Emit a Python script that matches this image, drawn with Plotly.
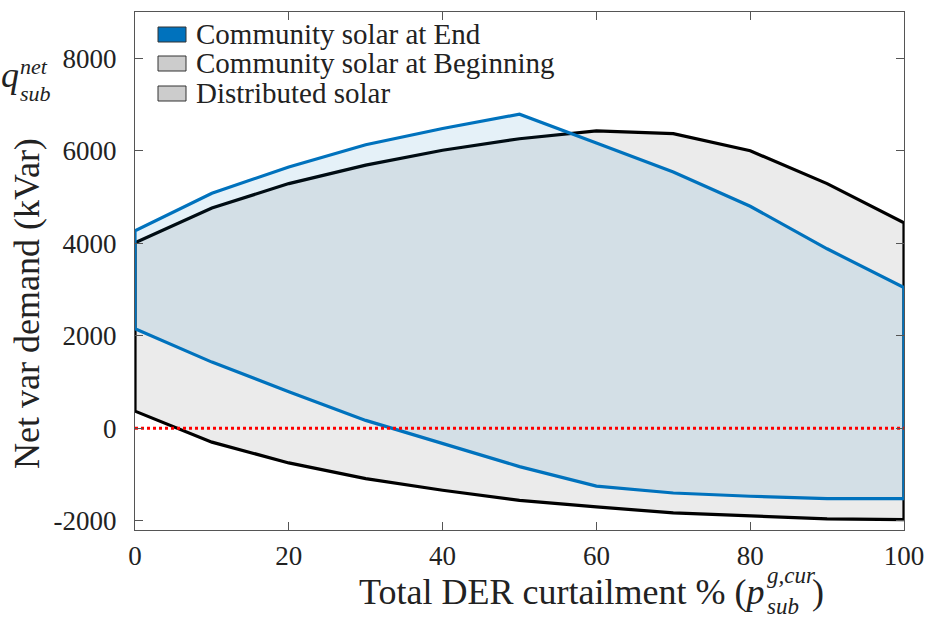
import plotly.graph_objects as go

# ---------------- data ----------------
curtail_pct = [0, 10, 20, 30, 40, 50, 60, 70, 80, 90, 100]

end_upper = [4270, 5080, 5650, 6130, 6480, 6790, 6170, 5540, 4800, 3880, 3040]
end_lower = [2150, 1430, 790, 170, -330, -830, -1250, -1400, -1470, -1520, -1520]

beg_upper = [4010, 4760, 5290, 5690, 6010, 6260, 6430, 6370, 6000, 5290, 4440]
beg_lower = [370, -300, -750, -1090, -1340, -1560, -1700, -1830, -1900, -1960, -1975]

zero_x = [0, 100]
zero_y = [0, 0]

legend_labels = ["Community solar at End", "Community solar at Beginning", "Distributed solar"]
y_ticks = [-2000, 0, 2000, 4000, 6000, 8000]
y_tick_text = ["-2000", "0", "2000", "4000", "6000", "8000"]
x_ticks = [0, 20, 40, 60, 80, 100]
x_tick_text = ["0", "20", "40", "60", "80", "100"]

# ---------------- figure ----------------
W, H = 928, 618
L, R, T, B = 135, 24, 12, 88
PW, PH = W - L - R, H - T - B

def px(xp):
    return (xp - L) / PW

def py(yp):
    return (H - B - yp) / PH

def poly(upper, lower):
    xs = curtail_pct + curtail_pct[::-1] + [curtail_pct[0]]
    ys = upper + lower[::-1] + [upper[0]]
    return xs, ys

fig = go.Figure()

bx, by = poly(beg_upper, beg_lower)
fig.add_trace(go.Scatter(x=bx, y=by, mode="lines", fill="toself",
                         fillcolor="rgba(204,204,204,0.4)",
                         line=dict(color="black", width=3.2),
                         showlegend=False, hoverinfo="skip"))

ex, ey = poly(end_upper, end_lower)
fig.add_trace(go.Scatter(x=ex, y=ey, mode="lines", fill="toself",
                         fillcolor="rgba(0,114,189,0.1)",
                         line=dict(color="rgb(0,114,189)", width=3.2),
                         showlegend=False, hoverinfo="skip"))

fig.add_trace(go.Scatter(x=zero_x, y=zero_y, mode="lines",
                         line=dict(color="#ff0000", width=3, dash="3px,3px"),
                         showlegend=False, hoverinfo="skip"))

FONT = "Liberation Serif"
TXT = "#222222"

axis_common = dict(showline=True, linecolor="#555555", linewidth=1,
                   mirror="ticks", ticks="inside", ticklen=8, tickwidth=1,
                   tickcolor="#555555", showgrid=False, zeroline=False,
                   automargin=False,
                   tickfont=dict(family=FONT, size=27, color=TXT))

fig.update_layout(
    width=W, height=H,
    margin=dict(l=L, r=R, t=T, b=B, pad=0, autoexpand=False),
    paper_bgcolor="white", plot_bgcolor="white",
    xaxis=dict(range=[0, 100], tickvals=x_ticks, ticktext=x_tick_text,
               ticklabelstandoff=2, **axis_common),
    yaxis=dict(range=[-2200, 9000], tickvals=y_ticks, ticktext=y_tick_text,
               ticklabelstandoff=12, **axis_common),
    showlegend=False,
)

ann = []
shapes = []

# legend (manual)
leg_rows = [34.5, 63.5, 93.5]
leg_fill = ["rgb(0,114,189)", "rgb(204,204,204)", "rgb(204,204,204)"]
for lab, yc, fc in zip(legend_labels, leg_rows, leg_fill):
    shapes.append(dict(type="rect", xref="paper", yref="paper",
                       x0=px(158), x1=px(186), y0=py(yc - 7.5), y1=py(yc + 7.5),
                       fillcolor=fc, line=dict(color="#333333", width=1)))
    ann.append(dict(text=lab, xref="paper", yref="paper", x=px(194), y=py(yc),
                    xanchor="left", yanchor="middle", showarrow=False,
                    font=dict(family=FONT, size=29, color=TXT)))

# y axis label
ann.append(dict(text="Net var demand (kVar)", xref="paper", yref="paper",
                x=px(27), y=py(304), textangle=-90, xanchor="center", yanchor="middle",
                showarrow=False, font=dict(family=FONT, size=36, color=TXT)))

# q_sub^net
ann.append(dict(text="<i>q</i>", xref="paper", yref="paper", x=px(0), y=py(75),
                xanchor="left", yanchor="middle", showarrow=False, borderpad=0,
                font=dict(family=FONT, size=36, color=TXT)))
ann.append(dict(text="<i>net</i>", xref="paper", yref="paper", x=px(19), y=py(66),
                xanchor="left", yanchor="middle", showarrow=False, borderpad=0,
                font=dict(family=FONT, size=22, color=TXT)))
ann.append(dict(text="<i>sub</i>", xref="paper", yref="paper", x=px(19), y=py(93),
                xanchor="left", yanchor="middle", showarrow=False, borderpad=0,
                font=dict(family=FONT, size=22, color=TXT)))

# x axis label
ann.append(dict(text="Total DER curtailment % (<i>p</i>", xref="paper", yref="paper",
                x=px(766), y=py(592), xanchor="right", yanchor="middle", showarrow=False,
                font=dict(family=FONT, size=36, color=TXT)))
ann.append(dict(text="<i>g,cur</i>", xref="paper", yref="paper", x=px(765), y=py(575),
                xanchor="left", yanchor="middle", showarrow=False,
                font=dict(family=FONT, size=23, color=TXT)))
ann.append(dict(text="<i>sub</i>", xref="paper", yref="paper", x=px(765), y=py(606),
                xanchor="left", yanchor="middle", showarrow=False,
                font=dict(family=FONT, size=23, color=TXT)))
ann.append(dict(text=")", xref="paper", yref="paper", x=px(810), y=py(592),
                xanchor="left", yanchor="middle", showarrow=False,
                font=dict(family=FONT, size=36, color=TXT)))

fig.update_layout(annotations=ann, shapes=shapes)

fig.write_html("out.html")
